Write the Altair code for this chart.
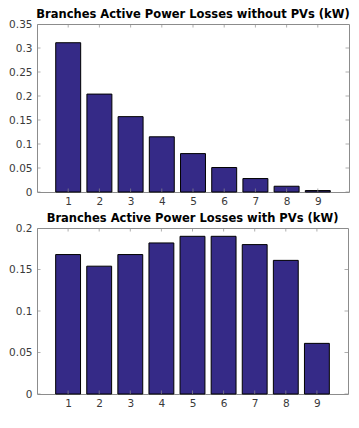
import altair as alt
import pandas as pd

# ---- data ----
branches = [1, 2, 3, 4, 5, 6, 7, 8, 9]
loss_without_pv = [0.311, 0.204, 0.157, 0.115, 0.080, 0.051, 0.028, 0.012, 0.003]
loss_with_pv = [0.168, 0.154, 0.168, 0.182, 0.190, 0.190, 0.180, 0.161, 0.061]
yticks_top = [0, 0.05, 0.1, 0.15, 0.2, 0.25, 0.3, 0.35]
yticks_bottom = [0, 0.05, 0.1, 0.15, 0.2]
x_domain = [0, 10]
title_top = "Branches Active Power Losses without PVs (kW)"
title_bottom = "Branches Active Power Losses with PVs (kW)"

BAR = "#352A87"
FRAME = "#8c8c8c"
LABEL = "#3a3a3a"
FONT = "DejaVu Sans"


def panel(values, yticks, title, w, h):
    df = pd.DataFrame({"branch": branches, "loss": values})
    xs = alt.Scale(domain=x_domain, nice=False, zero=False)
    ys = alt.Scale(domain=[yticks[0], yticks[-1]], nice=False)
    x_axis = alt.Axis(values=branches, labelPadding=4)
    y_axis = alt.Axis(values=yticks, format="~g", labelPadding=5)

    bars = (
        alt.Chart(df)
        .transform_calculate(
            left="datum.branch - 0.4", right="datum.branch + 0.4", base="0"
        )
        .mark_bar(color=BAR, stroke="black", strokeWidth=1)
        .encode(
            x=alt.X("left:Q", scale=xs, title=None, axis=x_axis),
            x2="right:Q",
            y=alt.Y("loss:Q", scale=ys, title=None, axis=y_axis),
            y2="base:Q",
        )
    )

    # inward tick marks on all four sides (outer half clipped by the frame)
    ytick_df = pd.DataFrame({"v": yticks, "lo": x_domain[0], "hi": x_domain[1]})
    xtick_df = pd.DataFrame({"c": branches, "lo": yticks[0], "hi": yticks[-1]})
    tick_h = dict(orient="horizontal", size=7, thickness=1, color=FRAME, clip=True)
    tick_v = dict(orient="vertical", size=7, thickness=1, color=FRAME, clip=True)

    def tx(f):
        return alt.X(f, type="quantitative", scale=xs, title=None, axis=x_axis)

    def ty(f):
        return alt.Y(f, type="quantitative", scale=ys, title=None, axis=y_axis)

    left_ticks = alt.Chart(ytick_df).mark_tick(**tick_h).encode(x=tx("lo"), y=ty("v"))
    right_ticks = alt.Chart(ytick_df).mark_tick(**tick_h).encode(x=tx("hi"), y=ty("v"))
    bottom_ticks = alt.Chart(xtick_df).mark_tick(**tick_v).encode(x=tx("c"), y=ty("lo"))
    top_ticks = alt.Chart(xtick_df).mark_tick(**tick_v).encode(x=tx("c"), y=ty("hi"))

    return alt.layer(bars, left_ticks, right_ticks, top_ticks, bottom_ticks).properties(
        width=w,
        height=h,
        title=alt.TitleParams(
            title, font=FONT, fontSize=11.5, fontWeight="bold", color="black",
            offset=-1, anchor="middle", frame="group",
        ),
    )


top = panel(loss_without_pv, yticks_top, title_top, 312, 168)
bottom = panel(loss_with_pv, yticks_bottom, title_bottom, 311, 166)

chart = (
    alt.vconcat(top, bottom, spacing=5)
    .properties(padding={"left": 0, "top": 0, "right": 0, "bottom": 0}, background="white")
    .configure_view(stroke=FRAME, strokeWidth=1)
    .configure_axis(
        labelOverlap=False, labelFont=FONT, labelFontSize=10.5, labelColor=LABEL,
        ticks=False, tickSize=0, domain=False, grid=False,
    )
)

chart.save("out.html", embed_options={"renderer": "svg", "actions": False})
